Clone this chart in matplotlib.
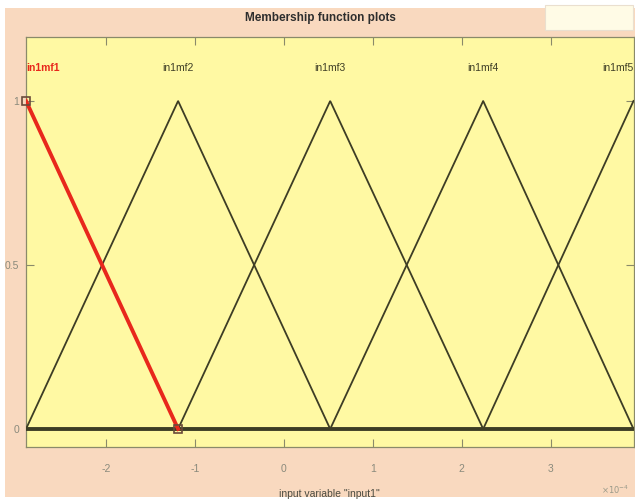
import numpy as np
import matplotlib
matplotlib.use("Agg")
import matplotlib.pyplot as plt
from matplotlib.patches import Rectangle
from matplotlib import font_manager

# Triangular membership functions of input1 (x in units of 1e-4)
mf_names = ["in1mf1", "in1mf2", "in1mf3", "in1mf4", "in1mf5"]
mf_params = [
    [-4.61, -2.90, -1.19],
    [-2.90, -1.19, 0.52],
    [-1.19, 0.52, 2.24],
    [0.52, 2.24, 3.93],
    [2.24, 3.93, 5.64],
]
x_range = [-2.90, 3.93]
x_ticks = [-2, -1, 0, 1, 2, 3]
y_ticks = [0, 0.5, 1]
y_tick_labels = ["0", "0.5", "1"]

PEACH = "#f9d9bf"
YELLOW = "#fff9a3"
LINE = "#3d3d25"
RED = "#e8281c"
TXT = "#8a8a7c"

installed = {f.name for f in font_manager.fontManager.ttflist}
narrow = ["Liberation Sans Narrow", "DejaVu Sans"] if "Liberation Sans Narrow" in installed \
    else ["Liberation Sans", "DejaVu Sans"]


def trimf(x, a, b, c):
    left = (x - a) / (b - a)
    right = (c - x) / (c - b)
    return np.clip(np.minimum(left, right), 0, 1)


fig = plt.figure(figsize=(6.35, 5.03), dpi=100, facecolor="white")
fig.patches.append(Rectangle((5 / 635, 6 / 503), 1 - 5 / 635, 1 - 14 / 503,
                             transform=fig.transFigure, facecolor=PEACH,
                             edgecolor="none", zorder=-2))
fig.patches.append(Rectangle((545 / 635, 1 - 30 / 503), 88 / 635, 25 / 503,
                             transform=fig.transFigure, facecolor="#fffbe6",
                             edgecolor="#eadfcf", lw=0.8, zorder=-1))

ax = fig.add_axes([26 / 635, 1 - 447 / 503, 607.5 / 635, 410 / 503])
ax.set_facecolor(YELLOW)

x = np.linspace(x_range[0], x_range[1], 2001)
for i, (name, p) in enumerate(zip(mf_names, mf_params)):
    if i == 0:
        continue
    ax.plot(x, trimf(x, *p), color=LINE, lw=1.3, zorder=3)

# Baseline where all functions are zero
ax.plot(x_range, [0, 0], color=LINE, lw=2.8, zorder=3)

# Selected function drawn in red (non-zero part) with end handles
p0 = mf_params[0]
xs = np.linspace(x_range[0], p0[2], 500)
ax.plot(xs, trimf(xs, *p0), color=RED, lw=2.8, zorder=4)
ax.plot([p0[1], p0[2]], [1, 0], ls="none", marker="s", ms=6, mfc="none",
        mec="#6a4a3a", mew=1.2, zorder=5, clip_on=False)

# Function names above their peaks
for i, (name, p) in enumerate(zip(mf_names, mf_params)):
    if i == 0:
        ha, xp, col, fw = "left", x_range[0], RED, "bold"
    elif i == len(mf_names) - 1:
        ha, xp, col, fw = "right", x_range[1], LINE, "normal"
    else:
        ha, xp, col, fw = "center", p[1], LINE, "normal"
    ax.text(xp, 1.1, name, ha=ha, va="center", color=col, fontsize=7.5,
            family=narrow, fontweight=fw)

ax.set_xlim(x_range)
ax.set_ylim(-0.055, 1.195)
ax.set_xticks(x_ticks)
ax.set_xticklabels([str(t) for t in x_ticks])
ax.set_yticks(y_ticks)
ax.set_yticklabels(y_tick_labels)
ax.tick_params(direction="in", length=6, width=0.8, colors="#8a8a6a",
               labelcolor=TXT, labelsize=7.5, top=True, right=True)
ax.tick_params(axis="x", pad=12)
ax.tick_params(axis="y", pad=5)
for lab in ax.get_xticklabels() + ax.get_yticklabels():
    lab.set_family(narrow)
for s in ax.spines.values():
    s.set_color("#8a8a6a")
    s.set_linewidth(0.9)

ax.set_xlabel('input variable "input1"', fontsize=7.5, color="#4a4a40",
              family=narrow, labelpad=11)
fig.text(0.504, 1 - 18 / 503, "Membership function plots", ha="center",
         va="center", fontsize=8.5, fontweight="bold", color="#2e2e2e",
         family=narrow)
fig.text(0.99, 1 - 490 / 503, r"$\times10^{-4}$", ha="right", va="center",
         fontsize=6, color="#9a9a8a")

fig.savefig("out.png", dpi=100, facecolor="white")
